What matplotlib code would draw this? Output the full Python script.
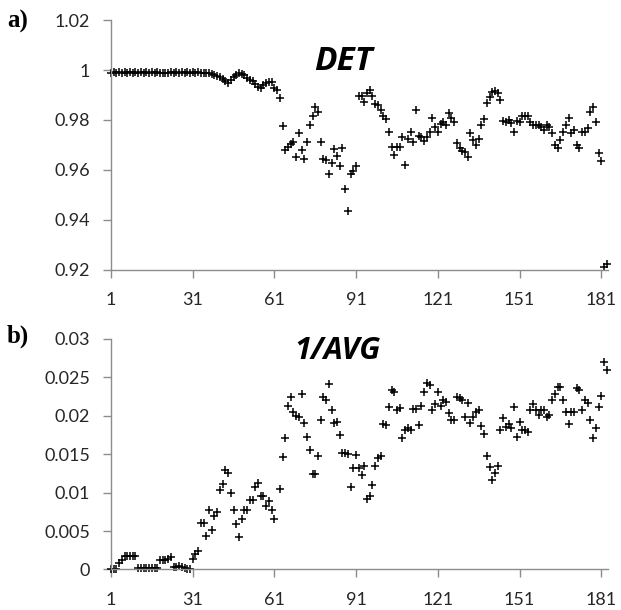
import numpy as np
import matplotlib
matplotlib.use('Agg')
import matplotlib.pyplot as plt

# DET per day (days 1..183)
det_days = list(range(1, 184))
det = [
    0.9990, 0.9991, 0.9990, 0.9991, 0.9990, 0.9991, 0.9990, 0.9991, 0.9990, 0.9991,
    0.9990, 0.9991, 0.9990, 0.9991, 0.9990, 0.9991, 0.9990, 0.9991, 0.9990, 0.9989,
    0.9988, 0.9990, 0.9991, 0.9990, 0.9991, 0.9990, 0.9991, 0.9990, 0.9991, 0.9990,
    0.9991, 0.9990, 0.9991, 0.9990, 0.9990, 0.9989, 0.9988,
    0.9985, 0.9980, 0.9977, 0.9973, 0.9965, 0.9955, 0.9950, 0.9960, 0.9972, 0.9982,
    0.9988, 0.9986, 0.9979, 0.9970, 0.9962, 0.9955, 0.9945, 0.9933, 0.9928,
    0.9940, 0.9948, 0.9952, 0.9951, 0.9930, 0.9920, 0.9890,
    # 64..91
    0.9777, 0.9680, 0.9693, 0.9703, 0.9713, 0.9650, 0.9747, 0.9680, 0.9644, 0.9713,
    0.9779, 0.9817, 0.9853, 0.9830, 0.9710, 0.9644, 0.9640, 0.9583, 0.9627, 0.9683,
    0.9656, 0.9617, 0.9689, 0.9523, 0.9436, 0.9584, 0.9597, 0.9616,
    # 92..124
    0.9897, 0.9897, 0.9873, 0.9910, 0.9920, 0.9897, 0.9864, 0.9860, 0.9840, 0.9816,
    0.9803, 0.9750, 0.9693, 0.9660, 0.9690, 0.9693, 0.9733, 0.9620, 0.9723, 0.9753,
    0.9713, 0.9840, 0.9736, 0.9730, 0.9716, 0.9730, 0.9753, 0.9807, 0.9770, 0.9753,
    0.9784, 0.9790, 0.9780,
    # 125..183
    0.9827, 0.9807, 0.9793, 0.9707, 0.9687, 0.9677, 0.9673, 0.9650, 0.9747, 0.9720,
    0.9700, 0.9723, 0.9780, 0.9803, 0.9869, 0.9893, 0.9913, 0.9915, 0.9910, 0.9880,
    0.9796, 0.9790, 0.9800, 0.9787, 0.9753, 0.9796, 0.9793, 0.9816, 0.9816, 0.9816,
    0.9790, 0.9780, 0.9780, 0.9780, 0.9770, 0.9760, 0.9780, 0.9770, 0.9747, 0.9700,
    0.9687, 0.9720, 0.9753, 0.9780, 0.9807, 0.9747, 0.9760, 0.9700, 0.9687, 0.9753,
    0.9753, 0.9767, 0.9830, 0.9851, 0.9793, 0.9667, 0.9637, 0.9213, 0.9224,
]

# 1/AVG per day (day 62 not shown)
avg_days = list(range(1, 62)) + list(range(63, 184))
inv_avg = [
    0.0000, 0.0000, 0.0001, 0.0008, 0.0012, 0.0018, 0.0018, 0.0018, 0.0018, 0.0018,
    0.0002, 0.0002, 0.0002, 0.0002, 0.0002, 0.0002, 0.0002, 0.0002,
    0.0013, 0.0012, 0.0013, 0.0014, 0.0016,
    0.0003, 0.0003, 0.0004, 0.0003, 0.0002, 0.0001, 0.0001,
    0.0014, 0.0020, 0.0024,
    # 34..61
    0.0060, 0.0060, 0.0043, 0.0077, 0.0051, 0.0069, 0.0075, 0.0103, 0.0111, 0.0129,
    0.0126, 0.0100, 0.0078, 0.0059, 0.0042, 0.0066, 0.0078, 0.0078, 0.0090, 0.0090,
    0.0108, 0.0113, 0.0096, 0.0096, 0.0082, 0.0089, 0.0077, 0.0066,
    # 63..124
    0.0105, 0.0146, 0.0171, 0.0213, 0.0225, 0.0205, 0.0200, 0.0198, 0.0228, 0.0191,
    0.0173, 0.0155, 0.0124, 0.0124, 0.0148, 0.0194, 0.0225, 0.0220, 0.0241, 0.0207,
    0.0191, 0.0192, 0.0175, 0.0152, 0.0152, 0.0150, 0.0108, 0.0132, 0.0149, 0.0132,
    0.0123, 0.0135, 0.0092, 0.0095, 0.0110, 0.0135, 0.0145, 0.0148, 0.0190, 0.0188,
    0.0211, 0.0233, 0.0231, 0.0208, 0.0210, 0.0171, 0.0181, 0.0184, 0.0181, 0.0209,
    0.0209, 0.0188, 0.0213, 0.0231, 0.0243, 0.0240, 0.0207, 0.0215, 0.0231, 0.0213,
    0.0220, 0.0218,
    # 125..183
    0.0204, 0.0195, 0.0194, 0.0225, 0.0223, 0.0220, 0.0198, 0.0217, 0.0191, 0.0198,
    0.0205, 0.0208, 0.0187, 0.0176, 0.0148, 0.0133, 0.0117, 0.0126, 0.0135, 0.0182,
    0.0197, 0.0186, 0.0190, 0.0184, 0.0211, 0.0173, 0.0192, 0.0182, 0.0181, 0.0179,
    0.0207, 0.0215, 0.0207, 0.0201, 0.0208, 0.0208, 0.0198, 0.0201, 0.0220, 0.0229,
    0.0238, 0.0237, 0.0220, 0.0205, 0.0189, 0.0205, 0.0205, 0.0236, 0.0234, 0.0208,
    0.0220, 0.0217, 0.0194, 0.0171, 0.0184, 0.0211, 0.0226, 0.0270, 0.0259,
]

x_ticks = [1, 31, 61, 91, 121, 151, 181]
det_ticks = [0.92, 0.94, 0.96, 0.98, 1.0, 1.02]
det_labels = ['0.92', '0.94', '0.96', '0.98', '1', '1.02']
avg_ticks = [0, 0.005, 0.01, 0.015, 0.02, 0.025, 0.03]
avg_labels = ['0', '0.005', '0.01', '0.015', '0.02', '0.025', '0.03']

AXIS_GREY = '#8c8c8c'
TEXT = '#262626'
plt.rcParams['font.family'] = ['Lato', 'DejaVu Sans']

fig = plt.figure(figsize=(6.21, 6.10), dpi=100)
ax1 = fig.add_axes([0.1787, 0.5574, 0.800, 0.4098])
ax2 = fig.add_axes([0.1787, 0.0664, 0.800, 0.3779])


def style(ax, yticks, ylabels, ylim):
    ax.set_xlim(1, 183.4)
    ax.set_ylim(*ylim)
    ax.set_xticks(x_ticks)
    ax.set_xticklabels([str(t) for t in x_ticks])
    ax.set_yticks(yticks)
    ax.set_yticklabels(ylabels)
    for s in ['top', 'right']:
        ax.spines[s].set_visible(False)
    for s in ['left', 'bottom']:
        ax.spines[s].set_color(AXIS_GREY)
        ax.spines[s].set_linewidth(1.0)
    ax.tick_params(axis='both', colors=AXIS_GREY, length=6, width=1.0,
                   labelcolor=TEXT, labelsize=13, direction='out')
    ax.tick_params(axis='x', pad=10)
    ax.tick_params(axis='y', pad=9)


ax1.plot(det_days, det, linestyle='none', marker='+', color='black',
         markersize=6, markeredgewidth=1.1, clip_on=False)
style(ax1, det_ticks, det_labels, (0.92, 1.02))

ax2.plot(avg_days, inv_avg, linestyle='none', marker='+', color='black',
         markersize=6, markeredgewidth=1.1, clip_on=False)
style(ax2, avg_ticks, avg_labels, (0, 0.03))

# panel titles
fig.text(343 / 621, 1 - 62 / 610, 'DET', fontsize=24, fontweight='bold',
         fontstyle='italic', family='Open Sans', ha='center', va='center',
         color='black')
fig.text(337 / 621, 1 - 351 / 610, '1/AVG', fontsize=22, fontweight='bold',
         fontstyle='italic', family='Open Sans', ha='center', va='center',
         color='black')

fig.text(7 / 621, 1 - 21 / 610, 'a)', fontsize=18, fontweight='bold',
         family='Liberation Serif', ha='left', va='center')
fig.text(7 / 621, 1 - 336 / 610, 'b)', fontsize=18, fontweight='bold',
         family='Liberation Serif', ha='left', va='center')

fig.savefig('out.png', dpi=100)
